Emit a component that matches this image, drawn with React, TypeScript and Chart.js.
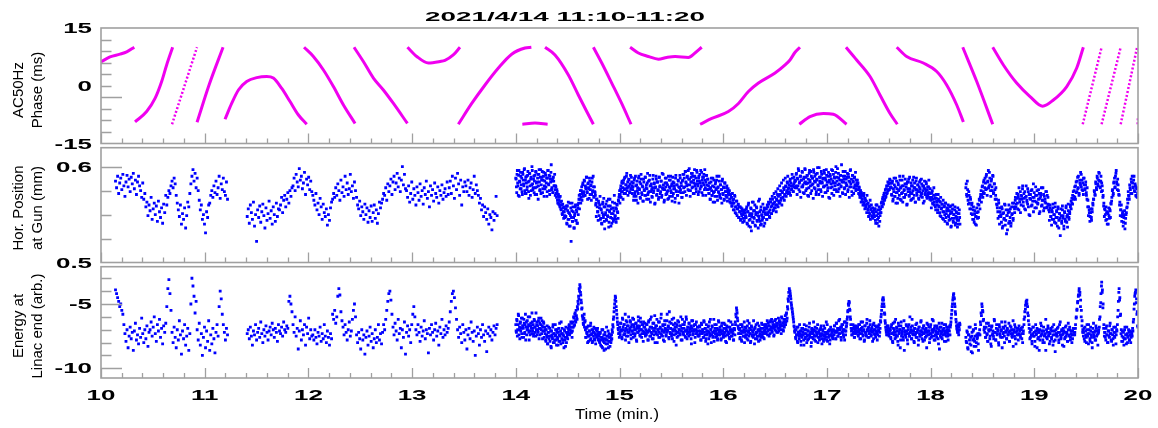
import React, { useEffect, useRef } from 'react';
import { Chart, registerables } from 'chart.js';
Chart.register(...registerables);

const W = 1158;
const H = 428;
const FONT = '"Liberation Sans", Arial, Helvetica, sans-serif';
const TITLE = '2021/4/14 11:10-11:20';
const X_TITLE = 'Time (min.)';
const xTickLabels = ['10', '11', '12', '13', '14', '15', '16', '17', '18', '19', '20'];

// ---------- AC50Hz phase (ms): [time (min), phase] read along each branch ----------
const phaseSolidSegments: number[][][] = [
  [[10.0, 6.2], [10.087, 7.5], [10.183, 8.2], [10.248, 8.8], [10.321, 10.0]],
  [[10.328, -9.4], [10.44, -6.7], [10.521, -3.3], [10.585, 1.1], [10.633, 5.4], [10.691, 10.0]],
  [[10.926, -9.5], [11.042, 0.2], [11.177, 10.0]],
  [[11.196, -8.7], [11.26, -4.6], [11.325, -1.1], [11.405, 1.1], [11.502, 2.1], [11.598, 2.4], [11.662, 2.0], [11.743, -0.7], [11.823, -4.1], [11.904, -7.6], [11.984, -10.0]],
  [[11.958, 10.0], [12.048, 7.6], [12.145, 4.1], [12.241, -0.2], [12.338, -5.0], [12.45, -9.8]],
  [[12.44, 10.0], [12.53, 6.3], [12.627, 2.0], [12.723, -1.1], [12.82, -4.6], [12.955, -9.8]],
  [[12.955, 10.0], [13.045, 7.6], [13.157, 5.9], [13.27, 6.3], [13.317, 6.6], [13.397, 8.0], [13.462, 10.0]],
  [[13.446, -10.0], [13.575, -4.6], [13.703, 0.2], [13.832, 4.6], [13.96, 8.2], [14.089, 9.8], [14.15, 10.0]],
  [[14.063, -10.0], [14.185, -9.7], [14.307, -10.0]],
  [[14.282, 10.0], [14.378, 8.0], [14.507, 2.8], [14.603, -2.4], [14.684, -6.7], [14.748, -10.0]],
  [[14.748, 10.0], [14.829, 5.9], [14.925, 0.7], [15.021, -4.6], [15.111, -10.0]],
  [[15.102, 10.0], [15.182, 8.5], [15.279, 7.6], [15.375, 6.9], [15.455, 7.35], [15.536, 7.6], [15.664, 7.35], [15.728, 8.5], [15.793, 10.0]],
  [[15.777, -10.0], [15.89, -8.5], [16.05, -6.7], [16.147, -4.6], [16.243, -1.5], [16.34, 0.7], [16.5, 3.3], [16.597, 5.4], [16.644, 6.7], [16.693, 8.7], [16.74, 10.0]],
  [[16.734, -10.0], [16.837, -8.0], [16.966, -7.2], [17.062, -7.4], [17.19, -10.0]],
  [[17.184, 10.0], [17.287, 6.7], [17.416, 2.4], [17.512, -2.4], [17.609, -7.2], [17.679, -10.0]],
  [[17.673, 10.0], [17.769, 7.6], [17.93, 5.9], [18.059, 3.7], [18.155, 0.2], [18.252, -5.0], [18.316, -9.4]],
  [[18.31, 10.0], [18.445, 1.1], [18.599, -10.0]],
  [[18.599, 10.0], [18.702, 5.4], [18.83, 0.7], [18.959, -2.8], [19.081, -5.3], [19.184, -3.7], [19.313, -0.2], [19.409, 4.6], [19.473, 10.0]],
];
const phaseDottedSegments: number[][][] = [
  [[10.685, -10.0], [10.926, 10.0]],
  [[19.467, -10.0], [19.649, 10.0]],
  [[19.649, -10.0], [19.833, 10.0]],
  [[19.833, -10.0], [19.99, 9.8]],
  [[19.997, -10.0], [20.0, -8.0]],
];

// ---------- sample segments (start/end time in minutes) ----------
const segStarts = [10.14, 11.41, 14.0, 18.34];
const segEnds = [11.22, 13.82, 18.28, 20.0];
// interleaved extra readings in the dense stretches
const denseStarts = [14.003, 18.3435];
const denseEnds = [18.283, 19.9965];

// Hor. position at gun, in 0.001 mm
const posSeg1 = [585,578,590,572,583,588,576,592,580,569,584,591,579,587,574,589,582,593,577,586,571,584,590,580,575,568,583,
566,572,558,563,549,560,554,568,545,556,562,550,559,543,564,553,547,557,541,561,552,570,
560,568,575,572,580,585,578,588,582,
570,562,555,548,560,540,551,545,557,536,549,563,558,
572,582,590,597,585,593,578,588,575,
565,555,560,545,550,540,531,553,547,560,
562,570,575,568,580,573,585,571,578,590,567,582,576,588,574,570,584,566];

const posSeg2 = [548,556,541,560,552,545,563,538,550,522,555,547,559,542,553,561,549,536,557,544,551,564,546,554,540,558,550,543,562,548,556,
555,560,568,552,565,570,558,566,573,562,575,569,578,
580,588,575,592,584,579,598,586,590,577,583,594,571,587,581,589,576,585,574,
570,565,560,572,555,562,550,567,558,545,561,552,548,556,539,550,544,557,563,
566,572,568,578,570,582,575,565,586,573,579,569,590,576,583,571,577,592,574,580,567,584,575,
568,560,556,564,549,558,553,545,561,550,557,542,554,547,559,543,552,560,546,555,541,551,563,557,562,
566,572,570,578,565,582,574,580,587,571,584,590,576,583,593,579,588,574,586,600,581,592,577,
575,568,580,563,572,584,566,577,570,560,579,573,565,582,569,575,561,578,571,585,567,574,558,580,570,576,564,583,572,568,579,562,575,570,581,566,573,577,569,584,571,
578,585,572,590,580,567,588,576,593,582,570,586,560,579,574,584,
580,574,586,570,578,583,568,576,590,572,581,575,
570,562,567,555,560,548,558,552,545,556,540,550,547,534,553,544,551,569,549];

const posSeg3 = [588,579,592,583,570,596,585,577,590,581,574,594,586,580,598,572,589,583,576,591,
584,567,593,580,587,575,600,582,578,590,585,571,595,583,579,588,566,592,584,576,
597,581,589,573,586,594,580,577,591,583,569,588,596,581,575,590,584,602,578,587,573,585,580,576,
580,572,576,565,570,561,568,558,563,555,560,550,557,546,553,549,
548,556,541,559,545,552,538,562,549,522,554,543,558,547,536,551,560,544,553,541,557,
562,570,566,575,568,579,572,583,574,586,570,580,577,589,573,582,578,567,585,576,581,571,588,575,579,569,574,
570,562,566,558,553,564,549,560,545,556,541,552,563,547,558,535,550,561,544,555,548,566,542,553,559,538,551,546,557,543,554,562,549,545,556,560,552,565,
568,575,571,580,574,585,578,583,572,588,577,581,590,575,584,579,586,573,582,577,589,580,
576,583,569,588,574,580,565,585,578,572,590,576,568,582,587,571,579,564,584,575,
589,570,581,577,593,573,566,586,580,574,582,569,578,591,575,583,562,579,587,571,
584,576,568,589,580,574,585,570,578,592,576,565,583,579,588,572,581,575,567,586,
578,590,573,582,569,584,577,580,563,588,575,581,570,586,579,574,591,576,583,568,
585,592,578,588,574,595,583,580,590,576,587,598,581,575,589,584,593,579,586,572,
590,582,577,596,585,580,588,574,592,583,579,594,586,570,589,581,597,578,584,591,576,587,
580,572,577,566,584,575,570,588,573,579,563,582,576,586,569,578,574,590,571,581,
567,576,585,572,579,565,583,574,570,578,568,575,572,
574,566,571,562,568,559,565,555,562,570,552,558,564,549,556,561,547,553,558,545,551,556,542,550,554,546,552,
548,556,541,553,560,538,549,545,557,533,551,542,563,547,554,539,550,558,544,552,536,548,566,543,555,540,549,546,553,538,557,551,
550,556,545,558,552,561,548,555,563,551,559,566,554,562,557,568,560,553,565,571,
558,564,570,562,575,567,560,573,568,578,565,571,580,569,575,583,572,578,574,585,570,580,577,588,574,582,579,586,
585,592,578,588,580,596,583,574,590,586,579,594,581,587,572,598,584,589,577,591,
583,569,593,586,580,595,575,588,582,597,578,590,584,571,587,593,581,576,599,585,
589,574,592,583,587,579,596,580,588,573,591,584,578,594,586,567,590,582,597,579,
585,592,576,588,583,600,574,589,581,593,577,586,591,580,602,584,572,590,587,578,
595,583,580,589,574,592,585,579,596,582,587,570,591,584,578,589,581,575,586,580,
582,576,579,571,575,568,573,566,570,563,572,560,567,558,564,570,556,562,552,559,565,555,560,548,557,553,550,
548,556,541,553,560,545,551,538,555,549,
556,562,559,566,563,570,565,573,568,577,572,580,575,583,576,586,579,
578,570,585,566,574,581,569,588,573,577,562,583,575,570,586,578,565,580,573,590,
568,576,582,571,579,560,584,574,587,569,577,572,583,566,580,575,589,570,578,563,
585,573,576,581,567,579,574,586,571,582,568,575,580,564,577,572,584,569,576,570,579,573,566,
572,565,568,575,561,570,563,567,558,571,564,560,555,566,559,552,563,548,557,561,
553,545,558,550,562,547,554,541,556,549,544,558,551,537,553,546,560,542,550,555,
539,548,552,544,557,540,551,547];

const posSeg4 = [578,571,585,565,574,562,568,556,560,550,555,545,551,540,548,557,546,553,560,565,
568,575,571,580,574,586,578,583,590,577,584,596,580,588,575,585,579,591,572,582,576,570,566,
560,553,565,548,557,550,542,556,538,552,546,560,544,530,549,555,541,553,547,538,558,551,544,562,556,565,
558,567,562,571,555,566,574,560,569,577,563,572,556,568,580,565,561,574,550,567,
571,559,576,564,582,568,557,570,563,575,561,566,572,553,569,578,560,565,571,557,566,562,574,558,568,
560,553,557,548,555,545,561,550,542,558,547,553,538,556,544,551,528,549,541,555,546,535,552,543,559,548,537,554,545,551,560,556,
562,570,566,575,568,580,573,585,577,590,572,583,594,579,586,575,588,581,576,584,570,578,
565,558,552,548,556,544,553,560,
566,574,570,582,576,588,580,594,585,578,590,583,575,570,
562,556,550,558,545,553,540,549,556,547,561,
568,576,572,584,578,590,596,582,587,575,570,
563,555,560,548,553,542,550,535,546,552,558,
562,570,566,578,572,584,590,579,586,575,582,570,578,568,574];

const posDense3 = [587,573,596,580,591,569,584,594,577,588,571,592,582,597,575,586,572,590,579,595,
574,585,593,570,589,581,596,576,587,573,591,578,594,571,584,592,580,597,575,589,
572,586,595,577,590,569,585,593,579,588,574,596,582,591,571,587,594,576,585,573,
589,580,592,570,
579,568,574,562,571,565,560,569,556,564,551,561,553,558,547,556,
548,559,540,554,563,545,551,538,557,547,562,543,553,536,549,558,544,555,541,560,550,
566,556,571,562,575,565,581,569,573,585,570,578,589,574,566,583,577,588,571,580,565,584,574,590,568,579,573,
560,548,566,553,544,562,557,569,546,555,540,561,550,567,543,558,552,545,564,549,
559,537,554,566,547,556,541,563,551,545,570,548,557,542,561,553,546,564,
571,562,577,568,583,574,566,586,576,589,572,581,593,578,570,587,580,574,591,577,584,572,
579,565,586,572,590,569,581,575,562,588,577,584,567,592,573,580,564,587,576,570,
589,578,566,583,571,585,574,591,563,580,576,568,587,573,582,561,578,590,570,584,
575,566,589,579,572,585,568,593,577,581,563,576,588,571,583,574,566,590,579,569,
586,575,580,564,589,572,583,577,567,591,574,581,570,585,562,578,588,573,580,568,
586,573,592,579,595,584,570,589,581,596,575,587,569,584,593,578,590,572,583,597,
580,588,574,594,582,571,590,585,577,596,580,573,589,583,592,576,586,570,591,581,587,576,
572,583,566,578,588,570,580,563,586,574,569,584,577,590,565,579,573,585,568,581,
576,562,587,571,578,566,583,574,569,580,564,577,571,
575,563,571,568,559,572,562,566,555,569,558,551,564,556,560,547,558,553,544,557,549,554,546,552,543,555,549,
547,558,540,553,562,544,551,537,556,548,563,542,554,546,560,538,552,557,543,549,
564,545,553,539,558,550,544,561,547,555,541,552,
556,545,560,550,563,553,547,566,558,551,569,561,555,572,563,557,574,566,560,577,
569,562,580,571,565,583,574,568,586,576,570,588,579,573,584,590,577,581,572,587,
583,576,592,580,574,589,584,578,
580,593,571,587,598,576,584,590,568,586,595,579,573,589,583,597,575,582,591,570,
587,578,596,584,572,590,581,588,567,594,585,577,592,574,586,599,580,571,589,583,
576,595,584,569,588,579,593,573,586,597,581,575,590,568,584,592,578,587,572,596,
583,570,589,580,594,576,585,598,574,588,582,569,591,579,586,573,595,584,577,590,
571,587,581,593,576,589,568,584,597,579,574,591,585,572,588,580,594,577,583,586,
583,572,578,568,575,563,571,566,560,569,562,556,565,559,552,561,555,548,558,551,545,556,549,553,546,552,555,
556,544,560,549,541,555,547,558,543,552,
552,563,558,568,561,572,566,576,569,580,573,584,576,582,587,578,583,
571,583,564,577,588,569,579,562,585,573,567,581,576,590,566,578,572,586,563,580,
575,568,587,571,582,561,577,584,570,589,574,565,580,572,586,567,578,583,563,576,
588,570,581,574,566,584,577,569,587,572,580,562,578,585,571,575,582,567,579,573,
586,568,577,
568,557,573,562,566,578,560,570,555,567,563,552,571,558,564,549,568,556,561,546,
565,553,559,543,562,551,557,540,560,548,554,545,559,538,552,556,543,550,546,558,
541,553,547,537,551,544,555,540];

const posDense4 = [582,569,576,561,570,556,566,551,562,545,558,542,554,548,539,552,561,547,566,556,
571,563,579,568,584,572,588,576,592,570,585,578,594,581,569,587,575,590,573,582,566,578,561,
557,546,562,540,553,548,558,536,551,545,561,539,555,549,534,552,560,543,556,541,550,562,546,558,552,568,
561,572,556,568,578,563,552,570,566,580,559,567,574,555,569,563,577,558,571,549,
566,575,560,568,553,573,564,579,557,570,562,576,551,567,572,559,565,578,554,569,
563,574,557,570,561,
555,544,560,548,539,553,557,545,550,562,541,554,547,558,536,551,546,556,543,559,
549,538,553,545,557,542,550,561,547,553,558,564,
567,561,574,569,579,566,584,574,589,578,570,586,581,592,576,583,571,588,577,581,573,566,
558,549,555,543,552,547,556,562,
566,575,571,584,578,590,582,586,593,579,585,574,580,568,
559,548,555,544,552,540,551,557,546,554,562,
564,575,570,583,588,579,593,584,576,581,571,
560,549,555,543,551,538,547,554,541,550,557,
566,574,569,581,576,587,572,583,578,590,574,580,569,577,572];

// Energy at linac end, in 0.1 (arb.)
const energySeg1 = [-39,-42,-45,-48,-52,-50,-55,-58,
-66,-73,-79,-70,-84,-75,-68,-77,-72,-86,-71,-65,-78,-74,-81,-69,-76,-61,-73,-80,-70,-77,-67,-83,-72,
-70,-64,-75,-68,-60,-73,-79,-66,-71,-62,-76,-69,-81,-67,-72,-65,
-52,-38,-31,-42,-55,
-72,-80,-68,-76,-84,-70,-78,-63,-74,-89,-71,-77,-66,-82,-75,-69,-86,-73,
-50,-30,-36,-44,-57,-48,
-70,-78,-65,-82,-73,-90,-76,-68,-84,-71,-79,-63,-86,-74,-81,-69,-77,-88,-72,-66,-75,
-52,-40,-46,-58,
-66,-72,-78,-69,-74];

const energySeg2 = [-73,-70,-77,-68,-75,-82,-71,-74,-66,-78,-72,-69,-76,-64,-73,-80,-70,-75,-67,-72,
-78,-71,-68,-74,-65,-70,-76,-69,-72,-79,-66,-71,-73,-68,-75,-64,-70,-72,-67,-69,
-48,-44,-50,-56,
-66,-72,-60,-75,-69,-85,-71,-63,-78,-70,-74,-66,-82,-68,-73,-61,-77,-70,-75,
-74,-78,-70,-76,-81,-72,-75,-68,-79,-73,-77,-66,-75,-80,-71,-76,-82,-73,-77,
-58,-62,-55,-65,-60,-44,-38,-43,-56,-63,
-68,-74,-66,-72,-78,-70,-64,-75,-71,-62,-55,-50,-60,
-74,-80,-72,-77,-85,-70,-78,-74,-89,-76,-71,-82,-75,-68,-79,-73,-84,-77,-70,-80,-76,-66,-78,-73,-81,
-72,-66,-70,-62,-55,-48,-42,-40,-47,-58,
-68,-74,-65,-71,-78,-62,-73,-69,-84,-70,-76,-64,-89,-72,-67,-75,-70,-80,-66,
-58,-52,-60,-70,-74,-66,-72,-79,-68,-75,-71,-63,-77,-70,-73,-88,-69,-74,-66,-72,
-78,-70,-65,-75,-71,-82,-68,-73,-62,-76,-70,-74,-67,-72,-69,
-64,-56,-48,-42,-40,-45,-53,-62,
-70,-76,-68,-73,-80,-66,-72,-78,-70,-85,-74,-69,-77,-64,-72,-79,-71,-90,-75,-68,
-73,-82,-70,-76,-66,-74,-79,-71,-87,-73,-68,-75,-70,-78,-72,-67,-74,-69,-66];

const energySeg3 = [-66,-72,-63,-70,-58,-74,-68,-65,-71,-61,-76,-67,-69,-62,-73,-66,-78,-64,-70,-68,
-60,-72,-67,-74,-65,-69,-57,-71,-66,-73,-63,-68,-75,-70,-64,-67,-72,-61,-69,-74,-66,-70,-63,-77,-68,-65,-71,
-73,-78,-70,-76,-81,-72,-68,-75,-79,-71,-84,-74,-77,-66,-73,-80,-75,-70,-78,-72,
-76,-82,-69,-74,-79,-71,-64,-77,-73,-80,-75,-70,-78,-83,-72,-76,-74,-69,
-70,-66,-73,-68,-72,-65,-71,
-64,-60,-67,-58,-63,-55,-61,-52,-48,-44,-38,-35,-41,-47,-54,-59,-62,-66,-58,-64,
-70,-76,-72,-68,-75,-79,-71,-74,-67,-77,-73,-80,-70,-75,-72,-78,-69,-74,-76,-71,-73,-77,
-75,-80,-72,-78,-83,-76,-70,-79,-86,-74,-77,-81,-68,-78,-75,-84,-73,-79,-76,-80,
-74,-70,-66,-62,-56,-50,-44,-48,-55,-61,-66,-70,-73,
-68,-74,-65,-71,-77,-62,-70,-66,-73,-58,-69,-75,-64,-72,-67,-80,-70,-63,-74,-68,
-71,-61,-76,-66,-70,-73,-65,-78,-69,-72,-60,-71,-67,-75,-64,-70,-73,-66,-79,-68,-72,-65,
-70,-74,-66,-72,-78,-63,-71,-68,-75,-60,-73,-69,-77,-65,-71,-80,-67,-72,-62,-74,
-70,-76,-64,-69,-73,-58,-71,-75,-67,-72,-79,-66,-70,-74,-63,-71,-68,-76,-56,-72,
-69,-65,-73,-77,-70,-61,-74,-68,-71,-82,-66,-72,-75,-64,-70,-73,-67,-78,-69,-62,
-72,-74,-66,-71,-76,-60,-70,-73,-68,-75,-65,-72,-69,-77,-63,-71,-74,-67,-70,-80,
-66,-73,-71,-68,-75,
-71,-75,-68,-73,-78,-66,-72,-70,-76,-64,-74,-69,-77,-71,-73,-81,-67,-72,-75,-62,
-70,-74,-68,-76,-72,-79,-66,-73,-71,-75,-69,-77,-63,-72,-74,-70,-78,-67,-73,-71,
-76,-65,-72,-75,-69,-80,-71,-74,-68,-73,-77,-70,-64,-72,-75,-71,-78,-69,
-70,-64,-58,-53,-57,-63,-69,
-73,-69,-76,-71,-78,-66,-72,-75,-70,-80,-68,-74,-71,-77,-63,-72,-75,-69,-73,-79,
-67,-74,-71,-76,-70,-81,-68,-73,-72,-77,-65,-71,-75,-70,-78,-69,-74,-72,-66,-76,-71,-73,
-70,-66,-72,-68,-74,-65,-70,-67,-73,-63,-69,-71,-64,-68,-75,-66,-70,-62,-67,-72,
-65,-69,-71,-63,-68,-66,-73,-61,-67,-70,-64,-68,-62,-66,-58,-63,-52,-46,-41,-38,
-40,-44,-49,-53,-56,-60,-64,-68,
-72,-76,-70,-74,-79,-68,-73,-77,-71,-75,-82,-69,-74,-72,-78,-66,-73,-76,-70,-80,
-74,-71,-77,-68,-75,-73,-83,-70,-76,-72,-64,-74,-78,-71,-75,-69,-73,-80,-72,-76,
-70,-74,-67,-77,-73,-71,-79,-75,-69,-74,-72,-78,-66,-73,-76,-71,-81,-74,-70,-75,-72,-77,
-70,-74,-67,-72,-77,-65,-71,-75,-69,-73,-62,-70,-76,-68,-72,-66,-74,-70,-78,-64,
-71,-67,-62,-56,-50,-48,-54,-60,-66,-71,-74,-69,-73,-67,-76,-70,-72,-68,
-72,-68,-75,-70,-66,-73,-77,-69,-71,-64,-74,-70,-78,-67,-72,-75,-62,-71,-69,-76,
-73,-66,-70,-74,-68,-79,-71,-65,-73,-70,-76,-68,-72,-74,-67,-71,-75,-69,-64,-58,
-52,-47,-45,-50,-57,-63,-68,-72,-70,-74,-67,-71,-73,
-71,-76,-68,-73,-79,-65,-72,-70,-77,-62,-74,-69,-75,-82,-67,-72,-70,-78,-64,-73,
-71,-76,-69,-86,-72,-74,-66,-71,-78,-68,-73,-75,-60,-72,-70,-77,-67,-74,-71,-80,
-69,-73,-76,-65,-72,-70,-78,-68,-75,-71,-63,-74,-72,-79,-67,-73,-70,-76,-69,-84,
-72,-66,-74,-71,-77,-68,-73,-75,-62,-71,-70,-78,-67,-74,-72,-76,-69,-73,-81,-65,
-71,-75,-68,-72,-77,-70,-74,-66,-73,-71,-79,-68,-72,-75,-70,-74,-67,
-68,-64,-58,-52,-47,-43,-45,-50,-56,-62,-67,-70,-66,-72,-68,-65];

const energySeg4 = [-76,-80,-72,-85,-74,-78,-68,-82,-75,-88,-71,-77,-79,-66,-83,-74,-76,-81,-73,
-70,-64,-57,-50,-55,-63,-70,
-72,-76,-68,-74,-79,-65,-71,-77,-70,-83,-67,-73,-75,-62,-72,-78,-69,-74,-71,-80,
-66,-73,-76,-70,-84,-68,-72,-75,-64,-71,-77,-69,-74,-72,-79,-67,-73,-70,-76,-63,
-72,-75,-68,-81,-71,-74,-69,-73,-70,
-74,-70,-77,-68,-73,-66,-60,-54,-49,-47,-52,-59,-66,-72,-76,-70,-79,-73,-68,-75,
-83,-71,-74,-69,-77,-72,-86,-70,-75,-67,-73,-78,-71,-80,-74,-62,-76,-72,-69,-75,
-81,-73,-70,-77,-68,-74,-79,-71,-87,-73,-75,-69,-72,-78,-66,-74,-76,-70,-82,-73,
-71,-77,-68,-75,-72,-79,-65,-74,-70,-76,-73,-80,-71,-74,-69,
-72,-66,-60,-54,-48,-43,-38,-41,-47,-55,-63,-70,
-72,-77,-68,-74,-80,-70,-75,-66,-73,-79,-71,-76,-84,-69,-74,-72,-78,-67,-75,-71,-73,-70,
-62,-52,-42,-33,-39,-50,
-66,-72,-76,-69,-74,-80,-71,-75,-67,-73,-78,-70,-74,-82,-72,-76,-68,-74,-71,
-60,-48,-38,-45,-58,
-70,-75,-79,-72,-77,-68,-74,-81,-73,-76,-70,-78,-74,-80,-72,-75,-71,
-62,-50,-42,-39,-46,-56,-68];

const energyDense3 = [-71,-62,-75,-66,-59,-70,-77,-64,-69,-73,-61,-67,-76,-65,-72,-58,-68,-74,-63,-70,
-66,-78,-60,-71,-67,-73,-64,-69,-75,-62,-68,-72,-57,-66,-74,-70,-63,-77,-65,-69,
-61,-73,-67,-71,-64,-76,-68,
-70,-79,-74,-67,-81,-72,-77,-69,-75,-83,-71,-76,-68,-80,-73,-78,-66,-74,-82,-70,
-77,-72,-79,-65,-75,-81,-73,-69,-78,-74,-84,-71,-76,-68,-80,-73,-77,-72,
-67,-74,-70,-64,-72,-76,-68,
-68,-61,-66,-57,-64,-59,-62,-54,-50,-46,-40,-37,-43,-49,-53,-60,-65,-61,-68,-63,
-76,-69,-73,-80,-67,-75,-71,-78,-65,-74,-70,-79,-72,-68,-77,-73,-81,-70,-75,-69,-78,-72,
-79,-73,-82,-76,-70,-84,-77,-74,-80,-72,-85,-78,-75,-81,-71,-79,-76,-83,-74,-78,
-77,-72,-68,-60,-53,-47,-45,-52,-58,-64,-69,-73,-76,
-72,-65,-70,-76,-61,-68,-74,-66,-71,-78,-63,-70,-67,-75,-60,-72,-69,-64,-77,-66,
-71,-73,-62,-68,-75,-70,-65,-79,-67,-72,-63,-69,-74,-61,-70,-76,-66,-71,-64,-73,
-68,-75,
-73,-66,-71,-78,-64,-70,-75,-62,-72,-68,-77,-65,-71,-74,-59,-69,-73,-67,-80,-70,
-64,-72,-76,-68,-61,-74,-70,-66,-78,-71,-63,-69,-75,-72,-58,-70,-67,-77,-64,-73,
-69,-75,-62,-71,-66,-79,-70,-65,-73,-68,-76,-63,-72,-70,-67,-74,-60,-71,-78,-66,
-73,-69,-64,-75,-71,-62,-77,-68,-72,-65,-70,-74,-67,-81,-69,-63,-73,-71,-66,-76,
-70,-64,-72,-68,-74,
-74,-67,-71,-78,-65,-73,-70,-76,-63,-72,-69,-79,-66,-74,-71,-68,-77,-64,-73,-70,
-80,-67,-72,-75,-62,-71,-69,-76,-66,-73,-78,-70,-64,-74,-68,-72,-77,-65,-71,-75,
-69,-73,-66,-79,-70,-67,-74,-72,-63,-76,-68,-71,-75,-70,-66,-73,-78,-69,
-74,-66,-60,-55,-61,-67,-73,
-70,-77,-66,-73,-79,-68,-71,-75,-64,-72,-76,-69,-74,-67,-78,-71,-65,-73,-80,-70,
-68,-75,-72,-63,-74,-69,-77,-66,-72,-75,-70,-79,-67,-73,-71,-76,-65,-74,-69,-72,
-77,-68,
-66,-73,-69,-63,-71,-67,-75,-64,-70,-68,-62,-72,-66,-69,-74,-63,-68,-71,-65,-67,
-72,-61,-69,-66,-64,-70,-60,-67,-65,-71,-62,-66,-59,-64,-57,-61,-54,-48,-44,-40,
-42,-46,-51,-54,-58,-62,-67,-71,
-70,-77,-74,-68,-80,-72,-75,-66,-73,-79,-71,-76,-69,-74,-82,-70,-77,-73,-67,-75,
-78,-71,-74,-65,-76,-72,-80,-69,-73,-77,-70,-75,-68,-79,-72,-74,-66,-76,-71,-78,
-73,-69,-75,-81,-70,-74,-67,-77,-72,-76,-64,-73,-79,-71,-75,-70,-78,-68,-74,-72,
-76,-71,
-74,-67,-71,-77,-65,-72,-69,-75,-63,-70,-73,-68,-78,-66,-72,-70,-76,-64,-71,-74,
-68,-65,-60,-55,-51,-49,-55,-62,-69,-74,-70,-66,-72,-76,-69,-73,-67,-71,
-69,-74,-66,-72,-77,-70,-64,-73,-68,-75,-71,-79,-67,-72,-74,-65,-70,-76,-68,-73,
-63,-71,-75,-69,-72,-66,-77,-70,-74,-67,-71,-73,-78,-68,-70,-66,-72,-63,-60,-55,
-50,-46,-47,-52,-58,-65,-70,-74,-67,-72,-69,-75,-70,
-70,-77,-66,-73,-80,-69,-74,-64,-72,-76,-68,-71,-79,-65,-73,-70,-84,-67,-75,-72,
-69,-78,-63,-74,-71,-76,-67,-73,-81,-70,-66,-75,-72,-68,-77,-62,-73,-71,-79,-69,
-74,-66,-72,-76,-70,-82,-68,-73,-75,-64,-71,-77,-69,-73,-67,-78,-72,-70,-75,-65,
-74,-71,-68,-80,-73,-66,-76,-70,-72,-63,-75,-69,-78,-71,-74,-67,-72,-77,-70,-85,
-68,-73,-76,-65,-71,-74,-69,-79,-72,-66,-75,-70,-73,-78,-68,-71,-74,
-66,-61,-55,-50,-45,-42,-46,-52,-58,-64,-69,-72,-67,-74,-70,-66];

const energyDense4 = [-79,-71,-84,-74,-68,-81,-76,-87,-72,-78,-70,-83,-75,-69,-80,-77,-73,-86,-74,
-74,-66,-59,-52,-56,-62,-68,
-69,-76,-65,-73,-79,-70,-67,-75,-81,-68,-74,-71,-77,-63,-72,-78,-66,-73,-70,-82,
-68,-75,-71,-64,-76,-73,-69,-80,-67,-72,-77,-70,-74,-65,-79,-71,-68,-75,-73,-83,
-70,-66,-77,-72,-69,-74,-78,-67,-71,
-76,-69,-73,-80,-71,-62,-56,-51,-48,-50,-57,-63,-69,-77,-70,-74,-81,-68,-75,-72,
-79,-66,-73,-84,-70,-76,-72,-78,-65,-74,-71,-80,-68,-75,-73,-86,-70,-77,-67,-74,
-72,-79,-69,-76,-71,-82,-66,-74,-78,-70,-73,-75,-68,-80,-72,-64,-77,-71,-74,-69,
-83,-72,-76,-67,-73,-79,-70,-75,-68,-78,-71,-74,-77,-69,-72,
-74,-69,-61,-55,-49,-44,-40,-43,-52,-60,-67,-72,
-75,-69,-79,-71,-76,-66,-73,-81,-70,-77,-68,-74,-80,-72,-65,-76,-71,-78,-69,-74,-82,-72,
-68,-60,-49,-36,-41,-53,
-69,-75,-72,-78,-67,-74,-80,-71,-76,-65,-73,-79,-70,-77,-68,-75,-72,-81,-70,
-66,-55,-41,-47,-59,
-73,-79,-71,-76,-82,-70,-77,-74,-68,-80,-75,-72,-78,-71,-76,-73,-69,
-64,-54,-44,-41,-49,-58,-67];

// ---------- helpers ----------
function segmentPoints(segs: number[][], starts: number[], ends: number[], scale: number) {
  const out: { x: number; y: number }[] = [];
  segs.forEach((vals, s) => {
    const t0 = starts[s];
    const t1 = ends[s];
    const n = vals.length;
    vals.forEach((v, i) => {
      out.push({ x: t0 + (i * (t1 - t0)) / (n - 1), y: v * scale });
    });
  });
  return out;
}

function linePoints(segs: number[][][]) {
  const out: { x: number; y: number }[] = [];
  segs.forEach((seg, k) => {
    if (k > 0) out.push({ x: NaN, y: NaN });
    seg.forEach(([t, v]) => out.push({ x: t, y: v }));
  });
  return out;
}

function stretchedText(ctx: CanvasRenderingContext2D, text: string, x: number, y: number, font: string, sx: number, align: 'left' | 'right' | 'center') {
  ctx.save();
  ctx.font = font;
  ctx.textAlign = 'left';
  ctx.textBaseline = 'alphabetic';
  const w = ctx.measureText(text).width * sx;
  const left = align === 'right' ? x - w : align === 'center' ? x - w / 2 : x;
  ctx.translate(left, y);
  ctx.scale(sx, 1);
  ctx.fillText(text, 0, 0);
  ctx.restore();
}

function fittedText(ctx: CanvasRenderingContext2D, text: string, cx: number, y: number, font: string, width: number) {
  ctx.save();
  ctx.font = font;
  const m = ctx.measureText(text).width;
  ctx.restore();
  stretchedText(ctx, text, cx, y, font, width / m, 'center');
}

type Panel = {
  top: number;
  bottom: number;
  yMin: number;
  yMax: number;
  yTicks: number[];
  yLong: number[];
  yLabels: [number, string][];
  titles: string[];
  titleCenter: number;
  datasets: any[];
  header: boolean;
  footer: boolean;
};

const PLOT_LEFT = 101;
const PLOT_RIGHT = 1138;
const FRAME = '#a0a0a0';
const TICK_FONT = `bold 14px ${FONT}`;
const TICK_SX = 1.85;

function decor(p: Panel) {
  return {
    id: 'decor',
    afterDraw(chart: any) {
      const ctx: CanvasRenderingContext2D = chart.ctx;
      const { left, right, top, bottom } = chart.chartArea;
      const xs = chart.scales.x;
      const ys = chart.scales.y;
      ctx.save();
      ctx.strokeStyle = FRAME;
      ctx.lineWidth = 1.3;
      ctx.beginPath();
      for (let i = 0; i <= 50; i++) {
        const v = 10 + i * 0.2;
        const px = Math.round(xs.getPixelForValue(v)) + 0.5;
        const len = i % 5 === 0 ? 10 : 5;
        ctx.moveTo(px, bottom);
        ctx.lineTo(px, bottom - len);
      }
      p.yTicks.forEach((v) => {
        const py = Math.round(ys.getPixelForValue(v)) + 0.5;
        const len = p.yLong.includes(v) ? 21 : 10.5;
        ctx.moveTo(left, py);
        ctx.lineTo(left + len, py);
      });
      ctx.stroke();
      ctx.lineWidth = 1.6;
      ctx.strokeRect(left, top, right - left, bottom - top);
      ctx.fillStyle = '#000';
      p.yLabels.forEach(([v, text]) => {
        const py = ys.getPixelForValue(v);
        stretchedText(ctx, text, 92, py + 5, TICK_FONT, TICK_SX, 'right');
      });
      const baselines = [23, 42];
      p.titles.forEach((t, k) => {
        ctx.save();
        ctx.translate(baselines[k], p.titleCenter);
        ctx.rotate(-Math.PI / 2);
        ctx.font = `15px ${FONT}`;
        ctx.textAlign = 'center';
        ctx.textBaseline = 'alphabetic';
        ctx.fillText(t, 0, 0);
        ctx.restore();
      });
      if (p.header) {
        fittedText(ctx, TITLE, 565, 21, `bold 13px ${FONT}`, 280);
      }
      if (p.footer) {
        xTickLabels.forEach((lab) => {
          const px = xs.getPixelForValue(Number(lab));
          stretchedText(ctx, lab, px, 400, TICK_FONT, TICK_SX, 'center');
        });
        fittedText(ctx, X_TITLE, 617, 419, `15px ${FONT}`, 84);
      }
      ctx.restore();
    },
  };
}

function pointDataset(data: { x: number; y: number }[]) {
  return {
    data,
    showLine: false,
    pointStyle: 'rect',
    pointRadius: 2,
    pointBorderWidth: 0,
    pointBackgroundColor: '#0000ff',
    backgroundColor: '#0000ff',
    borderColor: '#0000ff',
  };
}

const panels: Panel[] = [
  {
    top: 28,
    bottom: 143.5,
    yMin: -15,
    yMax: 15,
    yTicks: [-12, -9, -6, -3, 0, 3, 6, 9, 12],
    yLong: [-3],
    yLabels: [[15, '15'], [0, '0'], [-15, '-15']],
    titles: ['AC50Hz', 'Phase (ms)'],
    titleCenter: 90,
    datasets: [
      {
        data: linePoints(phaseSolidSegments),
        showLine: true,
        borderColor: '#f000f0',
        borderWidth: 3,
        pointRadius: 0,
        cubicInterpolationMode: 'monotone',
        spanGaps: false,
      },
      {
        data: linePoints(phaseDottedSegments),
        showLine: true,
        borderColor: '#f000f0',
        borderWidth: 2.5,
        borderDash: [2, 2],
        pointRadius: 0,
        cubicInterpolationMode: 'monotone',
        spanGaps: false,
      },
    ],
    header: true,
    footer: false,
  },
  {
    top: 147.7,
    bottom: 262.5,
    yMin: 0.5,
    yMax: 0.6198,
    yTicks: [0.525, 0.55, 0.575, 0.6],
    yLong: [0.6],
    yLabels: [[0.6, '0.6'], [0.5, '0.5']],
    titles: ['Hor. Position', 'at Gun (mm)'],
    titleCenter: 208,
    datasets: [
      pointDataset(segmentPoints([posSeg1, posSeg2, posSeg3, posSeg4], segStarts, segEnds, 0.001)),
      pointDataset(segmentPoints([posDense3, posDense4], denseStarts, denseEnds, 0.001)),
    ],
    header: false,
    footer: false,
  },
  {
    top: 266.7,
    bottom: 378,
    yMin: -10.754,
    yMax: -2.1,
    yTicks: [-10, -9, -8, -7, -6, -5, -4, -3],
    yLong: [-5, -10],
    yLabels: [[-5, '-5'], [-10, '-10']],
    titles: ['Energy at', 'Linac end (arb.)'],
    titleCenter: 326,
    datasets: [
      pointDataset(segmentPoints([energySeg1, energySeg2, energySeg3, energySeg4], segStarts, segEnds, 0.1)),
      pointDataset(segmentPoints([energyDense3, energyDense4], denseStarts, denseEnds, 0.1)),
    ],
    header: false,
    footer: true,
  },
];

function makeConfig(p: Panel): any {
  return {
    type: 'scatter',
    data: { datasets: p.datasets },
    options: {
      animation: false,
      responsive: false,
      maintainAspectRatio: false,
      events: [],
      layout: { padding: { left: PLOT_LEFT, right: W - PLOT_RIGHT, top: p.top, bottom: H - p.bottom } },
      plugins: { legend: { display: false }, tooltip: { enabled: false }, title: { display: false } },
      scales: {
        x: { type: 'linear', min: 10, max: 20, display: false },
        y: { type: 'linear', min: p.yMin, max: p.yMax, display: false },
      },
    },
    plugins: [decor(p)],
  };
}

export default function App() {
  const r0 = useRef<HTMLCanvasElement>(null);
  const r1 = useRef<HTMLCanvasElement>(null);
  const r2 = useRef<HTMLCanvasElement>(null);
  useEffect(() => {
    const refs = [r0, r1, r2];
    const charts = panels.map((p, i) => new Chart(refs[i].current as HTMLCanvasElement, makeConfig(p)));
    return () => charts.forEach((c) => c.destroy());
  }, []);
  const cs: React.CSSProperties = { position: 'absolute', left: 0, top: 0, width: W, height: H };
  return (
    <div style={{ position: 'absolute', left: 0, top: 0, width: W, height: H, background: '#fff' }}>
      <canvas ref={r0} width={W} height={H} style={cs} />
      <canvas ref={r1} width={W} height={H} style={cs} />
      <canvas ref={r2} width={W} height={H} style={cs} />
    </div>
  );
}
